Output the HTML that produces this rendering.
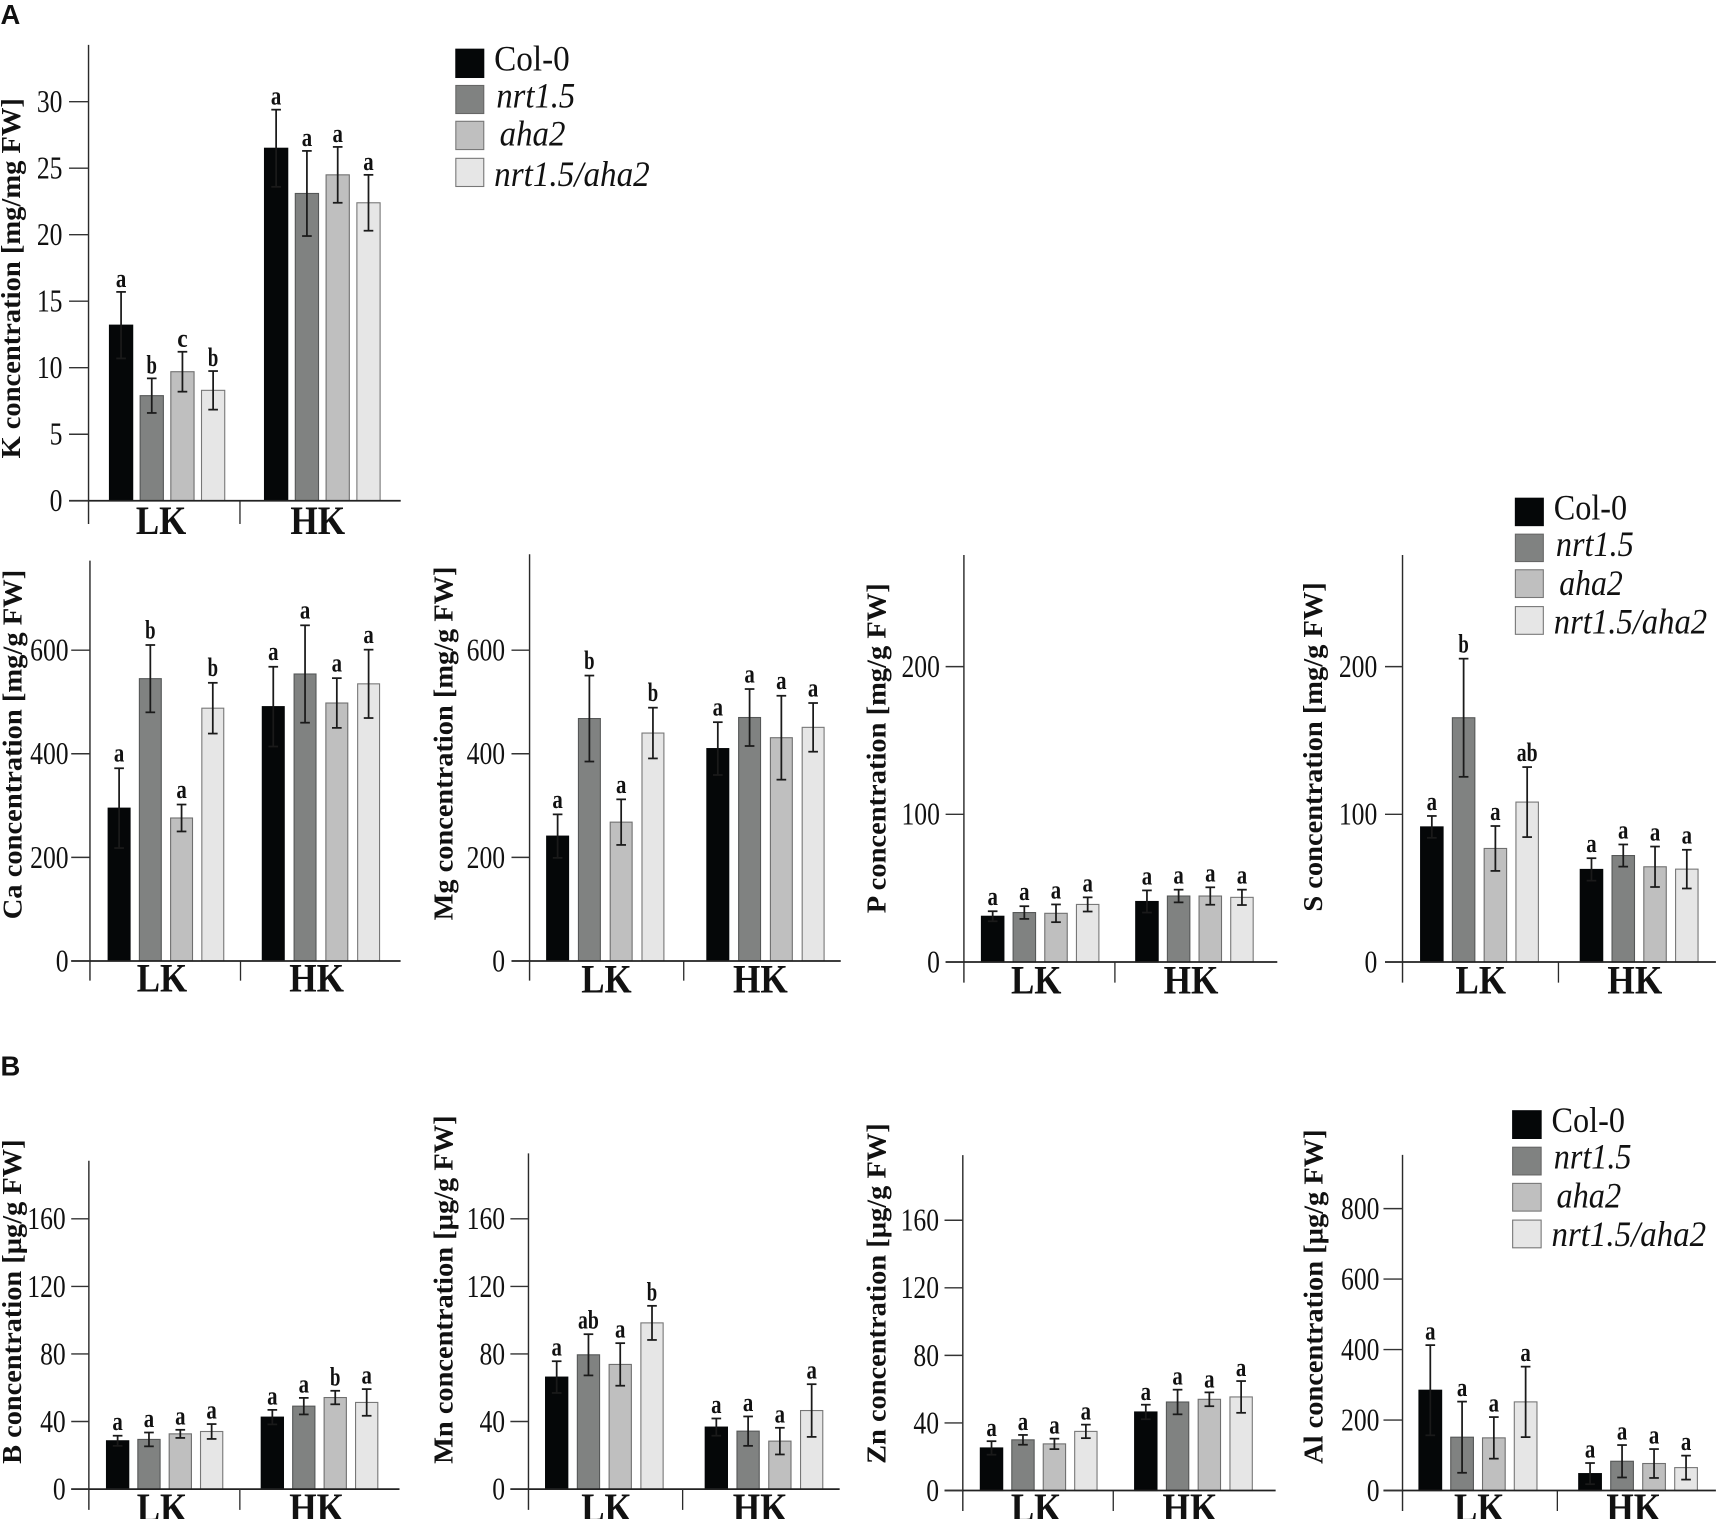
<!DOCTYPE html>
<html lang="en">
<head>
<meta charset="utf-8">
<title>Element concentrations in Col-0, nrt1.5, aha2 and nrt1.5/aha2</title>
<style>
html,body{margin:0;padding:0;background:#fff;width:1717px;height:1519px;overflow:hidden}
svg{display:block}
text{font-family:"Liberation Serif",serif;fill:#111}
.leg{font-size:33px}
.it{font-style:italic}
.panel{font-family:"Liberation Sans",sans-serif;font-weight:700;font-size:25px}
.title{font-weight:700;font-size:25px}
.tick{font-size:29px}
.group{font-weight:700;font-size:37px}
.sig{font-weight:700;font-size:24px}
</style>
</head>
<body>
<svg id="fig" xmlns="http://www.w3.org/2000/svg" width="1717" height="1519" viewBox="0 0 1567 1386.3">
  <rect x="0" y="0" width="1567" height="1386.3" fill="#ffffff"/>
  <text class="panel" x="0.5" y="22">A</text>
  <text class="panel" x="0.5" y="981.5">B</text>

  <g>
    <rect x="416" y="44.9" width="25.5" height="25.8" fill="#050708" stroke="#050708"/>
    <rect x="416" y="78" width="25.5" height="25.6" fill="#808281" stroke="#666"/>
    <rect x="416" y="110.7" width="25.5" height="25.8" fill="#bfbfbf" stroke="#777"/>
    <rect x="416" y="144.5" width="25.5" height="25.7" fill="#e6e6e6" stroke="#777"/>
    <text class="leg" x="451" y="64.5" textLength="69" lengthAdjust="spacingAndGlyphs">Col-0</text>
    <text class="leg it" x="453" y="98" textLength="72" lengthAdjust="spacingAndGlyphs">nrt1.5</text>
    <text class="leg it" x="456" y="133" textLength="60" lengthAdjust="spacingAndGlyphs">aha2</text>
    <text class="leg it" x="451" y="169.6" textLength="142" lengthAdjust="spacingAndGlyphs">nrt1.5/aha2</text>
  </g>

  <g>
    <rect x="1383" y="454.7" width="25.5" height="25" fill="#050708" stroke="#050708"/>
    <rect x="1383" y="487.5" width="25.5" height="25" fill="#808281" stroke="#666"/>
    <rect x="1383" y="520" width="25.5" height="25.3" fill="#bfbfbf" stroke="#777"/>
    <rect x="1383" y="553.6" width="25.5" height="25.3" fill="#e6e6e6" stroke="#777"/>
    <text class="leg" x="1418" y="474" textLength="67" lengthAdjust="spacingAndGlyphs">Col-0</text>
    <text class="leg it" x="1420" y="507.5" textLength="71" lengthAdjust="spacingAndGlyphs">nrt1.5</text>
    <text class="leg it" x="1423" y="543" textLength="58" lengthAdjust="spacingAndGlyphs">aha2</text>
    <text class="leg it" x="1418" y="578" textLength="140" lengthAdjust="spacingAndGlyphs">nrt1.5/aha2</text>
  </g>

  <g>
    <rect x="1380.5" y="1013.7" width="26" height="25.3" fill="#050708" stroke="#050708"/>
    <rect x="1380.5" y="1047" width="26" height="25.3" fill="#808281" stroke="#666"/>
    <rect x="1380.5" y="1080" width="26" height="25.3" fill="#bfbfbf" stroke="#777"/>
    <rect x="1380.5" y="1113.5" width="26" height="25.3" fill="#e6e6e6" stroke="#777"/>
    <text class="leg" x="1416" y="1033" textLength="67" lengthAdjust="spacingAndGlyphs">Col-0</text>
    <text class="leg it" x="1418" y="1066.3" textLength="71" lengthAdjust="spacingAndGlyphs">nrt1.5</text>
    <text class="leg it" x="1420.5" y="1102" textLength="59" lengthAdjust="spacingAndGlyphs">aha2</text>
    <text class="leg it" x="1416" y="1137" textLength="141" lengthAdjust="spacingAndGlyphs">nrt1.5/aha2</text>
  </g>
</svg>

<script>
// Categories
const groups = ['LK', 'HK'];
const genotypes = ['col-0', 'nrt1-5', 'aha2', 'nrt1-5-aha2'];

// Series values: four LK bars followed by four HK bars
const kMeans = [13.2, 7.9, 9.7, 8.3, 26.5, 23.1, 24.5, 22.4];
const kErrors = [2.5, 1.3, 1.5, 1.45, 2.9, 3.2, 2.1, 2.1];
const kLetters = ['a', 'b', 'c', 'b', 'a', 'a', 'a', 'a'];
const kTicks = [0, 5, 10, 15, 20, 25, 30];

const caMeans = [295, 545, 276, 488, 491, 554, 498, 535];
const caErrors = [77, 65, 26, 49, 77, 94, 48, 66];
const caLetters = ['a', 'b', 'a', 'b', 'a', 'a', 'a', 'a'];
const caTicks = [0, 200, 400, 600];

const mgMeans = [241, 468, 268, 440, 410, 470, 431, 451];
const mgErrors = [42, 83, 44, 49, 51, 55, 81, 47];
const mgLetters = ['a', 'b', 'a', 'b', 'a', 'a', 'a', 'a'];
const mgTicks = [0, 200, 400, 600];

const pMeans = [31, 33.5, 33, 39, 41, 44.7, 44.7, 43.8];
const pErrors = [3.4, 4.3, 6, 4.8, 7.5, 4.3, 5.9, 5.2];
const pLetters = ['a', 'a', 'a', 'a', 'a', 'a', 'a', 'a'];
const pTicks = [0, 100, 200];

const sMeans = [91.5, 165.4, 76.9, 108.3, 62.7, 72.1, 64.5, 62.9];
const sErrors = [7.4, 40, 15.2, 23.7, 7.6, 7.5, 13.7, 13.1];
const sLetters = ['a', 'b', 'a', 'ab', 'a', 'a', 'a', 'a'];
const sTicks = [0, 100, 200];

const bMeans = [28.6, 29.4, 32.7, 34.1, 42.6, 49.1, 54.2, 51.3];
const bErrors = [3, 4.1, 2.4, 4.4, 4.3, 4.9, 4, 7.9];
const bLetters = ['a', 'a', 'a', 'a', 'a', 'a', 'b', 'a'];
const bTicks = [0, 40, 80, 120, 160];

const mnMeans = [66.3, 79.5, 73.8, 98.4, 36.7, 34.3, 28.4, 46.5];
const mnErrors = [9.4, 12.2, 12.6, 10.1, 5.1, 8.7, 7.9, 15.6];
const mnLetters = ['a', 'ab', 'a', 'b', 'a', 'a', 'a', 'a'];
const mnTicks = [0, 40, 80, 120, 160];

const znMeans = [25.2, 30, 27.6, 35, 46.5, 52.4, 54, 55.4];
const znErrors = [4, 2.9, 3.1, 4, 4.3, 7.3, 4.1, 9.4];
const znLetters = ['a', 'a', 'a', 'a', 'a', 'a', 'a', 'a'];
const znTicks = [0, 40, 80, 120, 160];

const alMeans = [284.6, 151.3, 149.4, 251.5, 48, 83, 76.6, 65];
const alErrors = [128, 101, 59, 100, 30, 46, 41, 34];
const alLetters = ['a', 'a', 'a', 'a', 'a', 'a', 'a', 'a'];
const alTicks = [0, 200, 400, 600, 800];

const fills = ['#050708', '#808281', '#bfbfbf', '#e6e6e6'];
const edges = ['#050708', '#555757', '#6f6f6f', '#777777'];

// Each panel: data arrays plus its layout frame
const panels = [
  {name:'k', means:kMeans, errors:kErrors, letters:kLetters, ticks:kTicks, title:'K concentration [mg/mg FW]',
   axisX:80.8, top:41, bottom:478.2, zero:457, pxPerUnit:12.14, left:63, right:365.7, mid:219,
   lk:[99.9,28.0], hk:[241.4,28.1], barW:21.2, lkC:147, hkC:290, groupY:487.4,
   titleX:18.4, titleBottom:418.5, titleTop:89.5, tickRight:57, sigGap:4.5},
  {name:'ca', means:caMeans, errors:caErrors, letters:caLetters, ticks:caTicks, title:'Ca concentration [mg/g FW]',
   axisX:82.1, top:511.7, bottom:895, zero:877, pxPerUnit:0.4727, left:65, right:365.6, mid:219.5,
   lk:[98.7,28.5], hk:[239.4,29], barW:20, lkC:147.8, hkC:289, groupY:905,
   titleX:19.5, titleBottom:839, titleTop:520, tickRight:62.6, sigGap:6},
  {name:'mg', means:mgMeans, errors:mgErrors, letters:mgLetters, ticks:mgTicks, title:'Mg concentration [mg/g FW]',
   axisX:483.3, top:505.8, bottom:895, zero:877, pxPerUnit:0.4727, left:466.8, right:767.3, mid:624,
   lk:[498.9,29], hk:[645.1,29], barW:20, lkC:553.5, hkC:694, groupY:906,
   titleX:413, titleBottom:840, titleTop:517, tickRight:461, sigGap:6},
  {name:'p', means:pMeans, errors:pErrors, letters:pLetters, ticks:pTicks, title:'P concentration [mg/g FW]',
   axisX:879.7, top:506.5, bottom:896.8, zero:878, pxPerUnit:1.348, left:863, right:1165.7, mid:1017.5,
   lk:[895.7,28.9], hk:[1036.5,28.9], barW:20.5, lkC:945.7, hkC:1087, groupY:906.5,
   titleX:808, titleBottom:833.5, titleTop:532.3, tickRight:857.8, sigGap:5.5},
  {name:'s', means:sMeans, errors:sErrors, letters:sLetters, ticks:sTicks, title:'S concentration [mg/g FW]',
   axisX:1280, top:506.5, bottom:896.8, zero:878, pxPerUnit:1.348, left:1264, right:1566, mid:1422.3,
   lk:[1296.5,29], hk:[1442.2,29], barW:20.5, lkC:1351.4, hkC:1492, groupY:906.5,
   titleX:1206.7, titleBottom:832, titleTop:531.4, tickRight:1257, sigGap:5.5},
  {name:'b', means:bMeans, errors:bErrors, letters:bLetters, ticks:bTicks, title:'B concentration [\u00b5g/g FW]',
   axisX:81.1, top:1059.3, bottom:1378, zero:1359, pxPerUnit:1.5415, left:65, right:364.6, mid:218.9,
   lk:[97.2,28.6], hk:[238.4,28.7], barW:20.3, lkC:147.8, hkC:289, groupY:1388,
   titleX:19, titleBottom:1336, titleTop:1039.9, tickRight:60, sigGap:5},
  {name:'mn', means:mnMeans, errors:mnErrors, letters:mnLetters, ticks:mnTicks, title:'Mn concentration [\u00b5g/g FW]',
   axisX:482.3, top:1052.6, bottom:1378, zero:1359, pxPerUnit:1.5415, left:465.8, right:766.3, mid:623,
   lk:[497.9,29], hk:[643.6,29], barW:20.3, lkC:553.5, hkC:693.7, groupY:1388,
   titleX:413, titleBottom:1336, titleTop:1018, tickRight:461, sigGap:5},
  {name:'zn', means:znMeans, errors:znErrors, letters:znLetters, ticks:znTicks, title:'Zn concentration [\u00b5g/g FW]',
   axisX:878.7, top:1054.2, bottom:1379, zero:1360.3, pxPerUnit:1.5415, left:862, right:1164.2, mid:1016,
   lk:[894.7,28.7], hk:[1035.5,29], barW:20.4, lkC:945.6, hkC:1086, groupY:1388,
   titleX:808, titleBottom:1336, titleTop:1025.2, tickRight:857, sigGap:4.5},
  {name:'al', means:alMeans, errors:alErrors, letters:alLetters, ticks:alTicks, title:'Al concentration [\u00b5g/g FW]',
   axisX:1280, top:1054, bottom:1379, zero:1360.3, pxPerUnit:0.3216, left:1262.6, right:1566, mid:1421.3,
   lk:[1295,29], hk:[1440.8,29.2], barW:20.7, lkC:1350, hkC:1491, groupY:1388,
   titleX:1207, titleBottom:1336, titleTop:1030.7, tickRight:1259, sigGap:5}
];

const NS = 'http://www.w3.org/2000/svg';
const fig = document.getElementById('fig');

function node(tag, attrs, parent) {
  const el = document.createElementNS(NS, tag);
  for (const k in attrs) el.setAttribute(k, attrs[k]);
  parent.appendChild(el);
  return el;
}

function drawPanel(p) {
  const yOf = v => p.zero - v * p.pxPerUnit;
  const xOf = i => {
    const band = i < 4 ? p.lk : p.hk;
    return band[0] + (i % 4) * band[1];
  };

  const g = node('g', {}, fig);
  
  

  // bars
  p.means.forEach((m, i) => {
    const s = i % 4;
    const bar = node('rect', {x: xOf(i), y: yOf(m), width: p.barW, height: m * p.pxPerUnit,
      fill: fills[s], stroke: edges[s], 'stroke-width': 1}, g);
    
    
  });

  // axes
  const yAxis = node('line', {x1: p.axisX, x2: p.axisX, y1: p.top, y2: p.bottom, stroke: '#2a2a2a', 'stroke-width': 1.3}, g);
  
  

  const xAxis = node('line', {x1: p.left, x2: p.right, y1: p.zero, y2: p.zero, stroke: '#222', 'stroke-width': 1.6}, g);
  
  

  const midTick = node('line', {x1: p.mid, x2: p.mid, y1: p.zero, y2: p.bottom, stroke: '#2a2a2a', 'stroke-width': 1.2}, g);
  
  

  // y ticks and labels
  p.ticks.forEach(t => {
    const mark = node('line', {x1: p.left, x2: p.axisX, y1: yOf(t), y2: yOf(t), stroke: '#333', 'stroke-width': 1.3}, g);
    
    

    const label = node('text', {class: 'tick', x: p.tickRight, y: yOf(t) + 9.5, 'text-anchor': 'end',
      textLength: String(t).length * 11.7, lengthAdjust: 'spacingAndGlyphs'}, g);
    label.textContent = t;
    
    
  });

  // error bars and significance letters
  p.means.forEach((m, i) => {
    const cx = xOf(i) + p.barW / 2;
    const hi = yOf(m + p.errors[i]);
    const lo = yOf(m - p.errors[i]);

    const stem = node('line', {x1: cx, x2: cx, y1: hi, y2: lo, stroke: '#1a1a1a', 'stroke-width': 1.6}, g);
    
    

    const capTop = node('line', {x1: cx - 4.4, x2: cx + 4.4, y1: hi, y2: hi, stroke: '#1a1a1a', 'stroke-width': 1.6}, g);
    
    

    const capLow = node('line', {x1: cx - 4.4, x2: cx + 4.4, y1: lo, y2: lo, stroke: '#1a1a1a', 'stroke-width': 1.6}, g);
    
    

    const sig = node('text', {class: 'sig', x: cx, y: hi - p.sigGap, 'text-anchor': 'middle',
      textLength: p.letters[i].length * 9.5, lengthAdjust: 'spacingAndGlyphs'}, g);
    sig.textContent = p.letters[i];
    
    
  });

  // group labels
  const lkLabel = node('text', {class: 'group', x: p.lkC, y: p.groupY, 'text-anchor': 'middle', textLength: 46, lengthAdjust: 'spacingAndGlyphs'}, g);
  lkLabel.textContent = groups[0];
  
  

  const hkLabel = node('text', {class: 'group', x: p.hkC, y: p.groupY, 'text-anchor': 'middle', textLength: 50, lengthAdjust: 'spacingAndGlyphs'}, g);
  hkLabel.textContent = groups[1];
  
  

  // y title
  const title = node('text', {class: 'title', transform: 'translate(' + p.titleX + ' ' + p.titleBottom + ') rotate(-90)',
    textLength: p.titleBottom - p.titleTop, lengthAdjust: 'spacingAndGlyphs'}, g);
  title.textContent = p.title;
  
  
}

panels.forEach(drawPanel);
</script>
</body>
</html>
